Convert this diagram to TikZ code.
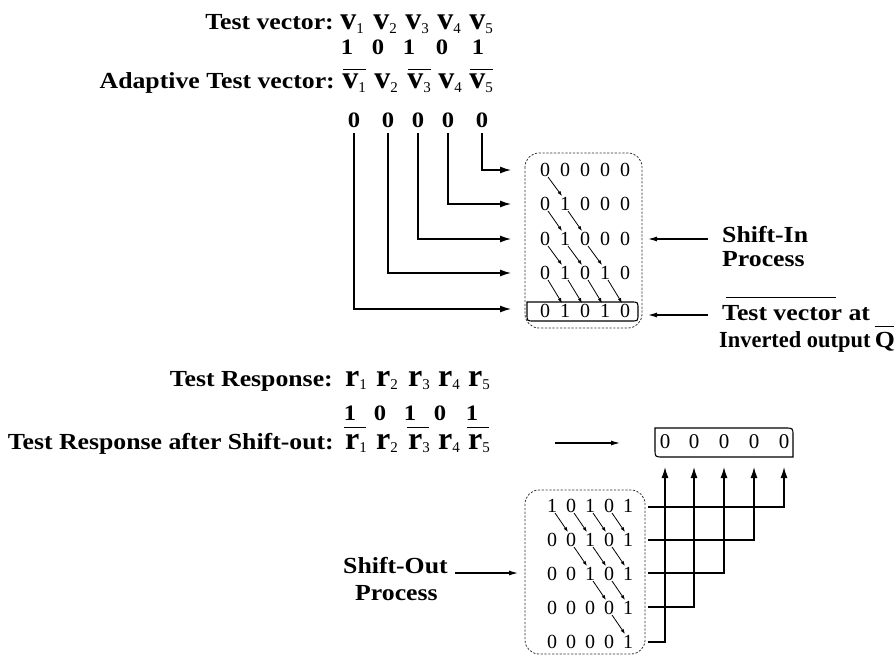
\documentclass[tikz,border=0pt]{standalone}
\usepackage{fontspec}
\setmainfont{Liberation Serif}
\newfontfamily\labfont{Liberation Serif}[FakeStretch=1.12]
\usetikzlibrary{arrows.meta}
\newcommand\vr[2]{#1\raisebox{-3.5pt}{\fontsize{15}{15}\selectfont\mdseries #2}}
\begin{document}
\begin{tikzpicture}[x=1pt,y=-1pt,
  lab/.style={inner sep=0pt, font=\labfont\bfseries\fontsize{23}{26}\selectfont},
  bnum/.style={inner sep=0pt, font=\labfont\bfseries\fontsize{22}{24}\selectfont},
  var/.style={inner sep=0pt, font=\bfseries\fontsize{32}{32}\selectfont},
  dig/.style={inner sep=0pt, font=\fontsize{20}{20}\selectfont},
  odig/.style={inner sep=0pt, font=\fontsize{21}{22}\selectfont},
  ol/.style={line width=1.1pt},
  conn/.style={line width=1.3pt, -{Latex[length=11pt,width=7pt]}},
  larr/.style={line width=1.1pt, -{Latex[length=9pt,width=5pt]}},
  uarr/.style={line width=1.3pt, -{Latex[length=11pt,width=7pt]}},
  sarr/.style={line width=0.8pt, -{Latex[length=5pt,width=3.5pt]}},
  dbox/.style={draw=black!80, line width=0.8pt, dash pattern=on 2.2pt off 1.6pt, rounded corners=14pt},
  rbox/.style={line width=1.1pt}]
\useasboundingbox (0,0) rectangle (894,658);

% ---------- top text ----------
\node[lab, anchor=base east] (tvl) at (334,30) {Test vector:};
\foreach \x [count=\i] in {352,385,417,449,481}
  \node[var, anchor=base] (tv\i) at (\x,30) {\vr{v}{\i}};
\foreach \x/\d [count=\i] in {347/1,378/0,409/1,442/0,478/1}
  \node[bnum, anchor=base] (tb\i) at (\x,55) {\d};
\node[lab, anchor=base east] (avl) at (335,89) {Adaptive Test vector:};
\foreach \x [count=\i] in {354,386,419,450,481}
  \node[var, anchor=base] (av\i) at (\x,89) {\vr{v}{\i}};
\foreach \i in {1,3,5}
  \draw[ol] ([xshift=1pt,yshift=5pt]av\i.north west) -- ([yshift=5pt]av\i.north east);
\foreach \x [count=\i] in {354,388,418,448,482}
  \node[bnum, anchor=base] (z\i) at (\x,128) {0};

% ---------- top matrix ----------
\draw[dbox] (525,153) rectangle (642,328);
\foreach \d [count=\c] in {0,0,0,0,0} \node[dig] (t1\c) at ({525+20*\c},170) {\d};
\foreach \d [count=\c] in {0,1,0,0,0} \node[dig] (t2\c) at ({525+20*\c},204) {\d};
\foreach \d [count=\c] in {0,1,0,0,0} \node[dig] (t3\c) at ({525+20*\c},239) {\d};
\foreach \d [count=\c] in {0,1,0,1,0} \node[dig] (t4\c) at ({525+20*\c},273) {\d};
\foreach \d [count=\c] in {0,1,0,1,0} \node[dig] (t5\c) at ({525+20*\c},311) {\d};
\foreach \r in {1,...,4} {
  \pgfmathtruncatemacro\rn{\r+1}
  \foreach \c in {1,...,\r} {
    \pgfmathtruncatemacro\cn{\c+1}
    \draw[sarr] ([shift={(3pt,-7pt)}]t\r\c.center) -- ([shift={(-3pt,8pt)}]t\rn\cn.center);
  }
}
\draw[rbox] (527,302) -- (631,302) .. controls (638,302) .. (638,309) -- (638,314)
  .. controls (638,321) .. (631,321) -- (534,321) .. controls (527,321) .. (527,314) -- cycle;

% shift-in connectors
\coordinate (in1) at (511,170);
\coordinate (in2) at (511,204);
\coordinate (in3) at (511,239);
\coordinate (in4) at (511,273);
\coordinate (in5) at (511,309);
\draw[conn] ([yshift=-5pt]z5.south) |- (in1);
\draw[conn] ([yshift=-5pt]z4.south) |- (in2);
\draw[conn] ([yshift=-5pt]z3.south) |- (in3);
\draw[conn] ([yshift=-5pt]z2.south) |- (in4);
\draw[conn] ([yshift=-5pt]z1.south) |- (in5);

% right labels
\node[lab, anchor=base west] (si) at (722,242) {Shift-In};
\node[lab, anchor=base west] (sip) at (722,266) {Process};
\coordinate (sia) at (708,239);
\coordinate (sib) at (648,239);
\draw[larr] (sia) -- (sib);
\node[lab, anchor=base west] (tva) at (722,320) {Test vector};
\node[lab, anchor=base west] (tvat) at ([xshift=6pt]tva.base east) {at};
\draw[ol] ([xshift=4pt,yshift=7pt]tva.north west) -- ([xshift=-6pt,yshift=7pt]tva.north east);
\coordinate (tqa) at (708,315);
\coordinate (tqb) at (648,315);
\draw[larr] (tqa) -- (tqb);
\node[lab, anchor=base west] (inv) at (719,347) {\scalebox{0.87}[1]{Inverted output}};
\node[lab, anchor=base west] (qq) at ([xshift=4pt]inv.base east) {Q};
\draw[ol] ([yshift=5pt]qq.north west) -- ([yshift=5pt]qq.north east);

% ---------- bottom text ----------
\node[lab, anchor=base east] (trl) at (333,386) {Test Response:};
\foreach \x [count=\i] in {356,387,419,449,479}
  \node[var, anchor=base] (tr\i) at (\x,386) {\vr{r}{\i}};
\foreach \x/\d [count=\i] in {350/1,380/0,410/1,440/0,472/1}
  \node[bnum, anchor=base] (rb\i) at (\x,420) {\d};
\node[lab, anchor=base east] (tral) at (334,449) {Test Response after Shift-out:};
\foreach \x [count=\i] in {356,387,419,449,479}
  \node[var, anchor=base] (ar\i) at (\x,449) {\vr{r}{\i}};
\foreach \i in {1,3,5}
  \draw[ol] ([xshift=-1pt,yshift=6pt]ar\i.north west) -- ([xshift=-1pt,yshift=6pt]ar\i.north east);
\coordinate (ra) at (555,443);
\coordinate (rb) at (620,443);
\draw[larr] (ra) -- (rb);

% output register
\draw[rbox] (655,428) -- (785,428) .. controls (793,428) .. (793,436) -- (793,457)
  -- (663,457) .. controls (655,457) .. (655,449) -- cycle;
\foreach \x [count=\i] in {665,694,724,754,784}
  \node[odig] (o\i) at (\x,442) {0};

% ---------- bottom matrix ----------
\draw[dbox] (525,490) rectangle (645,654);
\foreach \d [count=\c] in {1,0,1,0,1} \node[dig] (b1\c) at ({533+19*\c},506) {\d};
\foreach \d [count=\c] in {0,0,1,0,1} \node[dig] (b2\c) at ({533+19*\c},540) {\d};
\foreach \d [count=\c] in {0,0,1,0,1} \node[dig] (b3\c) at ({533+19*\c},574) {\d};
\foreach \d [count=\c] in {0,0,0,0,1} \node[dig] (b4\c) at ({533+19*\c},608) {\d};
\foreach \d [count=\c] in {0,0,0,0,1} \node[dig] (b5\c) at ({533+19*\c},642) {\d};
\foreach \r in {1,...,4} {
  \pgfmathtruncatemacro\rn{\r+1}
  \foreach \c in {\r,...,4} {
    \pgfmathtruncatemacro\cn{\c+1}
    \draw[sarr] ([shift={(3pt,-7pt)}]b\r\c.center) -- ([shift={(-3pt,8pt)}]b\rn\cn.center);
  }
}
% shift-out connectors
\foreach \y [count=\k] in {507,540,573,607,642}
  \coordinate (bo\k) at (648,\y);
\foreach \x [count=\k] in {665,694,724,754,784}
  \coordinate (up\k) at (\x,467);
\draw[uarr] (bo1) -| (up5);
\draw[uarr] (bo2) -| (up4);
\draw[uarr] (bo3) -| (up3);
\draw[uarr] (bo4) -| (up2);
\draw[uarr] (bo5) -| (up1);

\node[lab, anchor=base west] (so) at (343,573) {Shift-Out};
\node[lab, anchor=base west] (sop) at (355,600) {Process};
\coordinate (soa) at (455,573);
\coordinate (sob) at (518,573);
\draw[larr] (soa) -- (sob);
\end{tikzpicture}
\end{document}
